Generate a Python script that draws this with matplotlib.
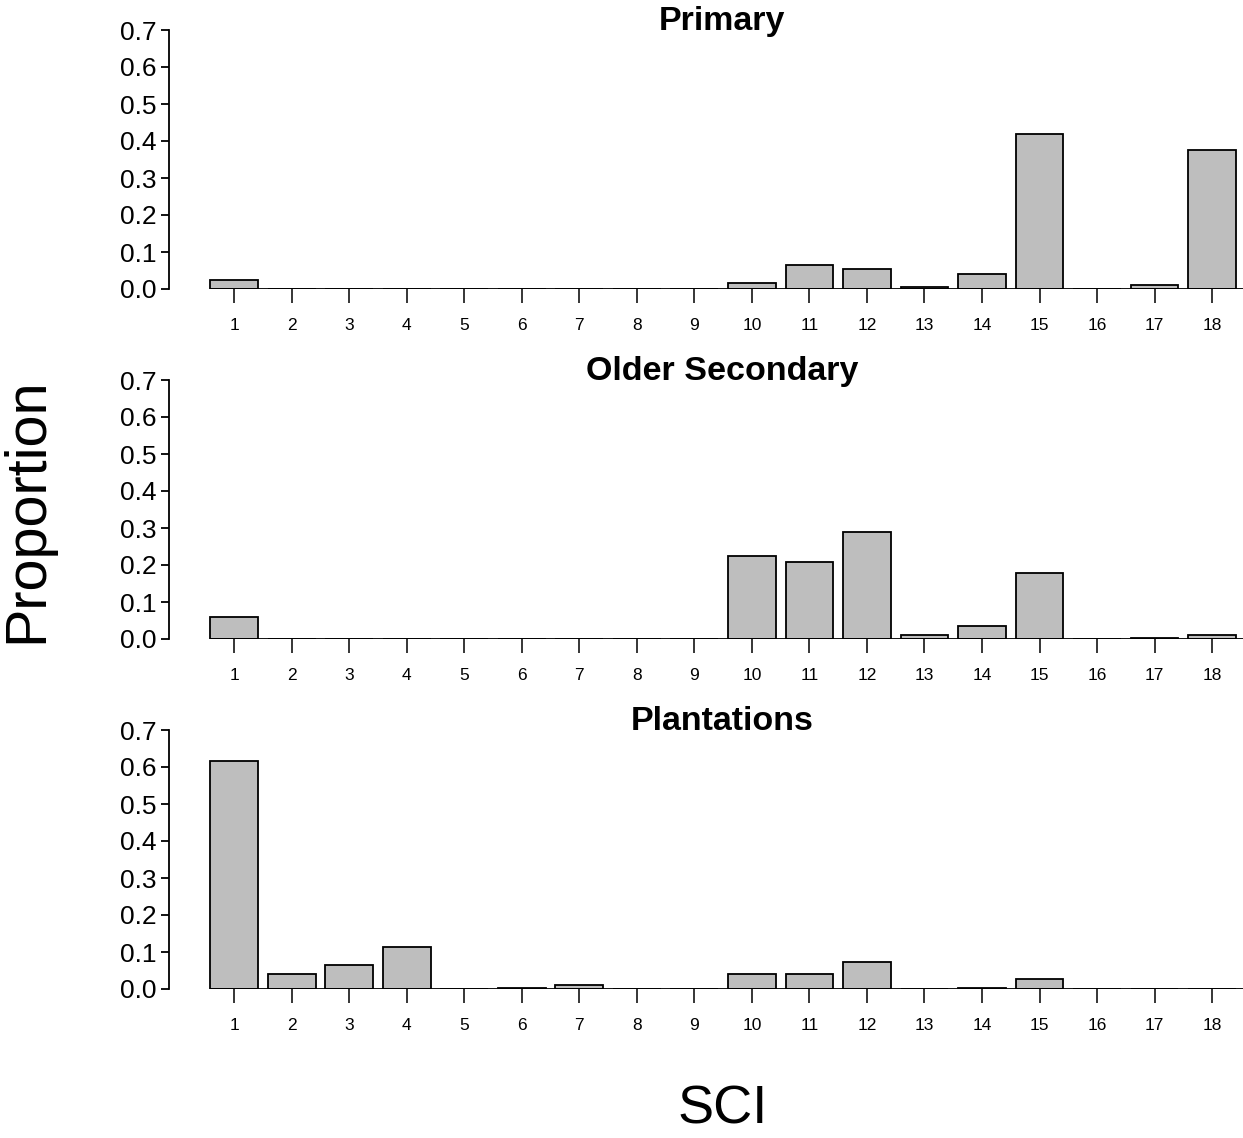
import matplotlib.pyplot as plt

plt.rcParams['font.family'] = ['Liberation Sans', 'DejaVu Sans']

sci = list(range(1, 19))
primary = [0.024, 0, 0, 0, 0, 0, 0, 0, 0, 0.015, 0.065, 0.054, 0.005, 0.040, 0.419, 0, 0.010, 0.376]
older_secondary = [0.060, 0, 0, 0, 0, 0, 0, 0, 0, 0.225, 0.207, 0.288, 0.010, 0.035, 0.178, 0, 0.004, 0.010]
plantations = [0.615, 0.040, 0.065, 0.113, 0, 0.004, 0.010, 0, 0, 0.040, 0.040, 0.073, 0, 0.004, 0.027, 0, 0, 0]
panels = [("Primary", primary), ("Older Secondary", older_secondary), ("Plantations", plantations)]

W, H = 1243, 1138
fig = plt.figure(figsize=(W / 100, H / 100), dpi=100)

# R barplot layout: bar width 1, space 0.2
centers = [0.7 + 1.2 * (i - 1) for i in sci]
xlo, xhi = 0.2 - 0.864, 21.8 + 0.864
left_px, right_px = 169, 1287
tops = [30, 380, 730]
height_px = 259

for (title, vals), top in zip(panels, tops):
    ax = fig.add_axes([left_px / W, 1 - (top + height_px) / H,
                       (right_px - left_px) / W, height_px / H])
    ax.bar(centers, vals, width=1.0, color="#bebebe", edgecolor="black", linewidth=1.3)
    ax.hlines(0, 0.2, 21.8, color="black", linewidth=1.3)
    ax.set_xlim(xlo, xhi)
    ax.set_ylim(0, 0.7)
    for s in ["top", "right", "bottom"]:
        ax.spines[s].set_visible(False)
    ax.spines["left"].set_bounds(0, 0.7)
    ax.spines["left"].set_linewidth(1.3)
    ax.set_yticks([0, 0.1, 0.2, 0.3, 0.4, 0.5, 0.6, 0.7])
    ax.set_yticklabels(["0.0", "0.1", "0.2", "0.3", "0.4", "0.5", "0.6", "0.7"])
    ax.tick_params(axis="y", length=6, width=1.3, labelsize=19, pad=3)
    ax.set_xticks(centers)
    ax.set_xticklabels([str(i) for i in sci])
    ax.tick_params(axis="x", length=10, width=1.1, labelsize=12.5, pad=11)
    ax.text(0.4945, 1.0, title, transform=ax.transAxes, fontsize=24.5,
            fontweight="bold", ha="center", va="baseline")

fig.text(27 / W, 1 - 510 / H, "Proportion", rotation=90, fontsize=41.5, ha="center", va="center")
fig.text(723 / W, 1 - 1110 / H, "SCI", fontsize=39, ha="center", va="center")

fig.savefig("out.png", dpi=100)
